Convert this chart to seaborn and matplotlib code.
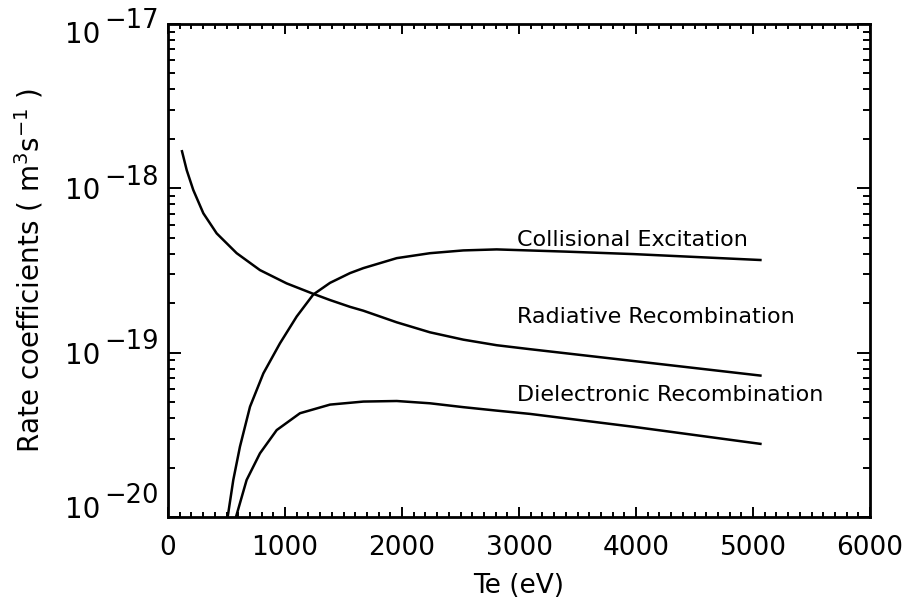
import matplotlib
matplotlib.use("Agg")
import matplotlib.pyplot as plt
import seaborn as sns
import pandas as pd
import numpy as np
from matplotlib.ticker import MultipleLocator, LogLocator, NullFormatter, FixedLocator

# Data (Te in eV, rate coefficient in m^3 s^-1)
rr_te = [117, 160, 216, 302, 416, 587, 786, 1014, 1242, 1385, 1556, 1670, 1955, 2239,
         2524, 2809, 3094, 3977, 5074]
rr_k = [1.71e-18, 1.29e-18, 9.77e-19, 7.05e-19, 5.32e-19, 4.03e-19, 3.18e-19, 2.64e-19,
        2.28e-19, 2.09e-19, 1.90e-19, 1.80e-19, 1.53e-19, 1.33e-19, 1.20e-19, 1.11e-19,
        1.05e-19, 8.9e-20, 7.24e-20]

ce_te = [510, 558, 615, 701, 815, 957, 1100, 1242, 1385, 1556, 1670, 1955, 2239, 2524,
         2809, 3400, 3977, 5074]
ce_k = [1.0e-20, 1.68e-20, 2.68e-20, 4.69e-20, 7.48e-20, 1.14e-19, 1.66e-19, 2.26e-19,
        2.66e-19, 3.05e-19, 3.27e-19, 3.76e-19, 4.03e-19, 4.19e-19, 4.25e-19, 4.12e-19,
        3.98e-19, 3.66e-19]

dr_te = [581, 672, 786, 929, 1128, 1385, 1670, 1955, 2239, 2524, 2809, 3094, 3977, 5074]
dr_k = [1.0e-20, 1.68e-20, 2.44e-20, 3.38e-20, 4.28e-20, 4.83e-20, 5.04e-20, 5.08e-20,
        4.92e-20, 4.66e-20, 4.44e-20, 4.24e-20, 3.54e-20, 2.78e-20]

labels = ["Collisional Excitation", "Radiative Recombination", "Dielectronic Recombination"]
label_te = 2983
label_k = [4.84e-19, 1.65e-19, 5.5e-20]

x_ticks = [0, 1000, 2000, 3000, 4000, 5000, 6000]
y_ticks = [1e-20, 1e-19, 1e-18, 1e-17]
y_exponents = ["20", "19", "18", "17"]

sns.set_theme(style="ticks")
plt.rcParams['font.family'] = ['DejaVu Sans']
plt.rcParams['mathtext.fontset'] = 'dejavusans'

fig = plt.figure(figsize=(9.09, 6.07), dpi=100)
ax = fig.add_axes([168/909, 1-517/607, (870-168)/909, (517-24)/607])

for te, k in [(rr_te, rr_k), (ce_te, ce_k), (dr_te, dr_k)]:
    df = pd.DataFrame({"Te": te, "k": k})
    sns.lineplot(data=df, x="Te", y="k", ax=ax, color="black", linewidth=1.8, sort=True)
for ln in ax.lines:
    ln.set_solid_joinstyle("round")
    ln.set_solid_capstyle("butt")

ax.set_yscale("log")
ax.set_xlim(0, 6000)
ax.set_ylim(1e-20, 1e-17)

for txt, y in zip(labels, label_k):
    ax.text(label_te, y, txt, fontsize=16, color="black", ha="left", va="center")

ax.xaxis.set_major_locator(FixedLocator(x_ticks))
ax.xaxis.set_minor_locator(MultipleLocator(100))
ax.set_xticklabels([str(t) for t in x_ticks])
ax.yaxis.set_major_locator(FixedLocator(y_ticks))
ax.set_yticklabels([])
ax.yaxis.set_minor_locator(LogLocator(base=10, subs=np.arange(2, 10)))
ax.yaxis.set_minor_formatter(NullFormatter())

ax.tick_params(which="both", direction="in", top=True, right=True, colors="black", width=1.4)
ax.tick_params(axis="x", which="major", length=7.2, labelsize=19, pad=13)
ax.tick_params(axis="x", which="minor", length=3.6)
ax.tick_params(axis="y", which="major", length=9.4)
ax.tick_params(axis="y", which="minor", length=5)
for s in ax.spines.values():
    s.set_linewidth(2)
    s.set_color("black")

# y tick labels drawn as "10" with a large exponent, IDL style
base_off = [-0.7, -7.9, -7.9, -13.7]
for val, ex, off in zip(y_ticks, y_exponents, base_off):
    ax.annotate("10", xy=(0, val), xycoords=("axes fraction", "data"),
                xytext=(-49.0, off), textcoords="offset points",
                ha="right", va="baseline", fontsize=20, color="black",
                annotation_clip=False)
    ax.annotate("\u2212" + ex, xy=(0, val), xycoords=("axes fraction", "data"),
                xytext=(-45.8, off + 10.5), textcoords="offset points",
                ha="left", va="baseline", fontsize=18.5, color="black",
                annotation_clip=False)

ax.set_xlabel("Te (eV)", fontsize=19, color="black")
ax.xaxis.set_label_coords(0.5, -0.113)
ax.set_ylabel(r"Rate coefficients ( m$^{3}$s$^{-1}$ )", fontsize=20, color="black")
ax.yaxis.set_label_coords(-0.174, 0.5)

fig.savefig("out.png", dpi=100)
